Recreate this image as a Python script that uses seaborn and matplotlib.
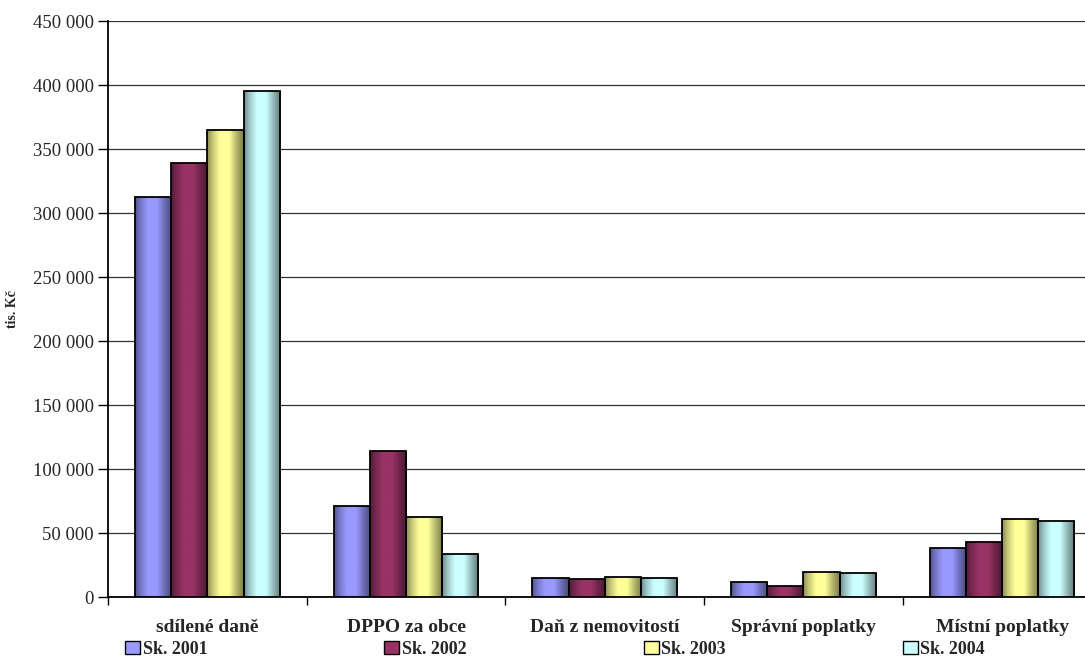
import numpy as np
import pandas as pd
import matplotlib
matplotlib.use("Agg")
import matplotlib.pyplot as plt
import matplotlib.colors as mcolors
from matplotlib.patches import Patch
from matplotlib.ticker import FuncFormatter, MultipleLocator, FixedLocator
import seaborn as sns

categories = ["sdílené daně", "DPPO za obce", "Daň z nemovitostí", "Správní poplatky", "Místní poplatky"]
series = ["Sk. 2001", "Sk. 2002", "Sk. 2003", "Sk. 2004"]
sk_2001 = [312300, 71000, 15200, 11500, 38200]
sk_2002 = [338800, 114000, 13900, 8600, 42900]
sk_2003 = [364800, 62600, 16000, 19900, 61000]
sk_2004 = [395300, 33300, 15200, 18600, 59700]
colors = ["#9999FF", "#993366", "#FFFF99", "#CCFFFF"]

rows = []
for name, vals in zip(series, [sk_2001, sk_2002, sk_2003, sk_2004]):
    for cat, v in zip(categories, vals):
        rows.append({"kategorie": cat, "rok": name, "hodnota": v})
df = pd.DataFrame(rows)

sns.set_theme(style="white")
plt.rcParams["font.family"] = ["Liberation Serif", "DejaVu Serif"]

fig = plt.figure(figsize=(10.85, 6.57), dpi=100)
W, H = 1085, 657
ax = fig.add_axes([108 / W, 60 / H, 993.5 / W, 576 / H])

sns.barplot(data=df, x="kategorie", y="hodnota", hue="rok", order=categories,
            hue_order=series, palette=colors, width=0.728, gap=0,
            edgecolor="black", linewidth=1.3, saturation=1, ax=ax, legend=False,
            errorbar=None, zorder=3)

ax.set_xlim(-0.5, len(categories) - 0.5)
ax.set_ylim(0, 450000)


def shade(rgb, t):
    # cylinder-style horizontal shading: dark edges, bright band left of centre
    xs = np.array([0.0, 0.15, 0.35, 0.6, 0.8, 1.0])
    fs = np.array([0.55, 0.78, 1.0, 1.0, 0.72, 0.48])
    f = np.interp(t, xs, fs)
    return np.clip(np.outer(f, rgb), 0, 1)


t = np.linspace(0, 1, 64)
for bar in list(ax.patches):
    x0, y0 = bar.get_x(), bar.get_y()
    w, h = bar.get_width(), bar.get_height()
    if h <= 0:
        continue
    rgb = np.array(mcolors.to_rgb(bar.get_facecolor()))
    img = shade(rgb, t)[np.newaxis, :, :]
    im = ax.imshow(img, extent=[x0, x0 + w, y0, y0 + h], aspect="auto",
                   origin="lower", zorder=3.5, interpolation="bicubic")
    im.set_clip_path(bar)
    bar.set_facecolor("none")
    bar.set_zorder(4)

ax.set_xlim(-0.5, len(categories) - 0.5)
ax.set_ylim(0, 450000)

ax.yaxis.set_major_locator(MultipleLocator(50000))
ax.yaxis.set_major_formatter(FuncFormatter(lambda v, p: f"{int(v):,}".replace(",", " ")))
ax.grid(axis="y", color="#333333", linewidth=0.9, zorder=0)
ax.set_axisbelow(True)

ax.set_xticks(range(len(categories)))
ax.set_xticklabels(categories, fontweight="bold", fontsize=14)
ax.xaxis.set_minor_locator(FixedLocator(np.arange(-0.5, len(categories), 1.0)))
ax.tick_params(axis="x", which="major", length=0, pad=16)
ax.tick_params(axis="x", which="minor", length=6, width=1, color="black", direction="out", bottom=True)
ax.tick_params(axis="y", length=7, width=1, color="black", direction="out", left=True,
               labelsize=13.5, pad=3)

for side in ["top", "right"]:
    ax.spines[side].set_visible(False)
for side in ["left", "bottom"]:
    ax.spines[side].set_color("black")
    ax.spines[side].set_linewidth(1.3)

ax.set_xlabel("")
ax.set_ylabel("tis. Kč", fontweight="bold", fontsize=10)
ax.yaxis.set_label_coords(-89 / 993.5, 0.5)

handles = [Patch(facecolor=c, edgecolor="black", linewidth=1) for c in colors]
fig.legend(handles, series, loc="center left", ncol=4,
           bbox_to_anchor=(125 / W, 8 / H), frameon=False,
           prop={"weight": "bold", "size": 13}, handlelength=0.83, handleheight=0.75,
           handletextpad=0.15, columnspacing=9.8, borderaxespad=0, borderpad=0)

fig.savefig("out.png", dpi=100)
